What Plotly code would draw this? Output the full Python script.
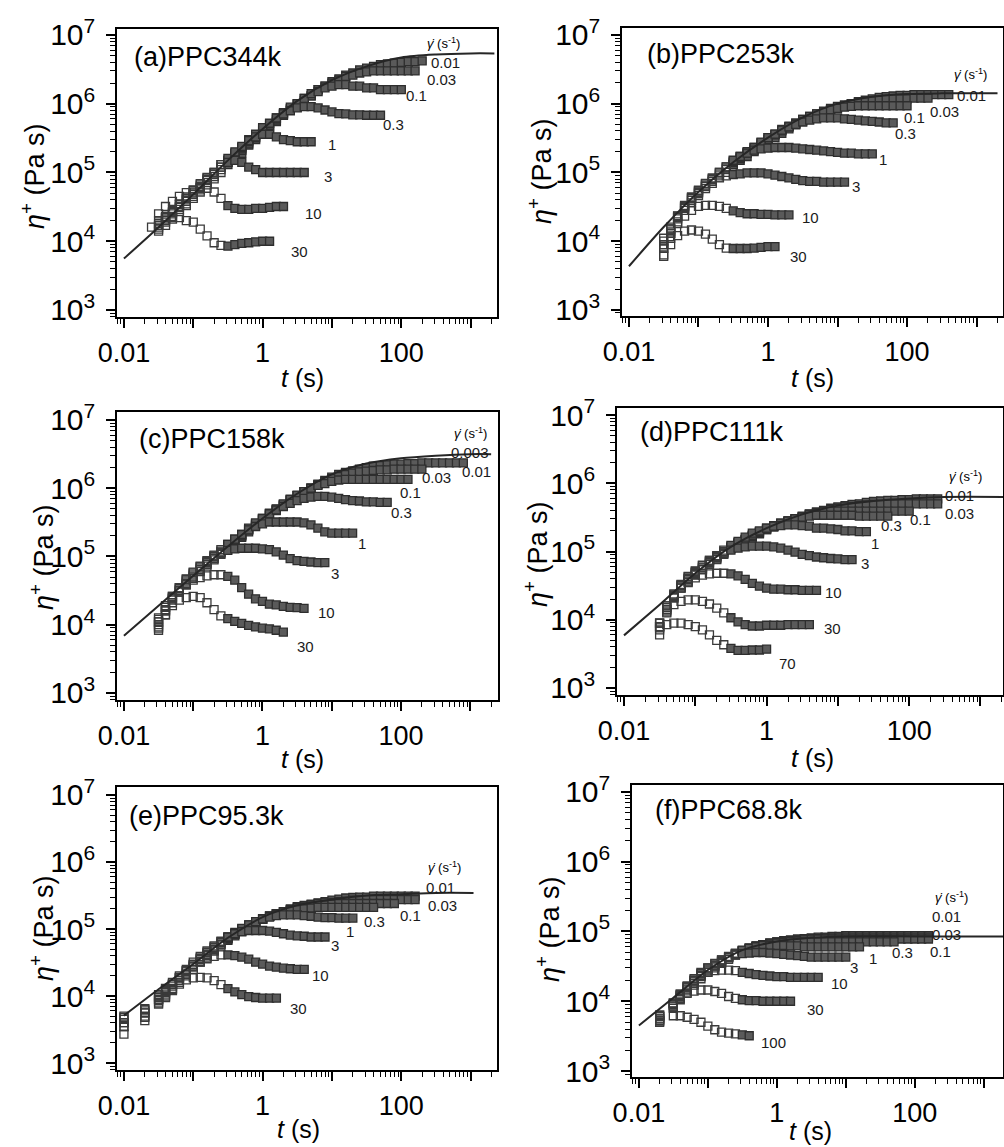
import plotly.graph_objects as go

W, H = 1004, 1147
FONT = "Liberation Sans, Arial, Helvetica, sans-serif"
EDGE = "#2e2e2e"
OPEN_COLOR = "#3a3a3a"
FILL_COLOR = "#5a5a5a"
DENSE_FROM_S = 0.3   # beyond this time the recorded points overlap into a solid band

# ---------------- data ----------------
# common sampling times (s) of the transient shear viscosity
TIME_S = [0.01, 0.0126, 0.0158, 0.02, 0.025, 0.0316, 0.0398, 0.0501, 0.0631, 0.0794,
          0.1, 0.126, 0.158, 0.2, 0.251, 0.316, 0.398, 0.501, 0.631, 0.794,
          1.0, 1.26, 1.58, 2.0, 2.51, 3.16, 3.98, 5.01, 6.31, 7.94,
          10.0, 12.6, 15.8, 20.0, 25.1, 31.6, 39.8, 50.1, 63.1, 79.4,
          100.0, 126.0, 158.0, 200.0, 251.0, 316.0, 398.0, 501.0, 631.0, 794.0]

# (a) PPC344k
RATES_A = ["0.01", "0.03", "0.1", "0.3", "1", "3", "10", "30"]
START_A = [0.0316, 0.0316, 0.0316, 0.0316, 0.0316, 0.0316, 0.0316, 0.025]
ETA_A = [
    [1.4e4, 1.7e4, 2.1e4, 2.7e4, 3.3e4, 4.2e4, 5.2e4, 6.6e4, 8.1e4, 1.0e5, 1.3e5, 1.6e5, 1.9e5, 2.5e5, 3.0e5, 3.7e5, 4.5e5, 5.5e5, 6.8e5, 8.1e5, 9.8e5, 1.1e6, 1.3e6, 1.6e6, 1.8e6, 2.1e6, 2.3e6, 2.6e6, 2.8e6, 3.1e6, 3.3e6, 3.5e6, 3.7e6, 3.8e6, 3.9e6, 4.0e6, 4.1e6, 4.1e6, 4.2e6],
    [1.5e4, 1.9e4, 2.3e4, 2.9e4, 3.5e4, 4.5e4, 5.6e4, 7.1e4, 8.7e4, 1.1e5, 1.4e5, 1.7e5, 2.1e5, 2.6e5, 3.2e5, 4.0e5, 4.8e5, 5.8e5, 7.1e5, 8.5e5, 1.0e6, 1.2e6, 1.3e6, 1.6e6, 1.8e6, 2.0e6, 2.2e6, 2.5e6, 2.6e6, 2.8e6, 2.9e6, 3.0e6, 3.0e6, 3.0e6, 3.0e6, 3.0e6, 3.0e6, 3.0e6],
    [1.6e4, 2.0e4, 2.5e4, 3.1e4, 3.8e4, 4.8e4, 6.0e4, 7.6e4, 9.3e4, 1.2e5, 1.5e5, 1.8e5, 2.2e5, 2.8e5, 3.5e5, 4.3e5, 5.1e5, 6.2e5, 7.4e5, 8.9e5, 1.0e6, 1.2e6, 1.4e6, 1.5e6, 1.7e6, 1.8e6, 1.9e6, 1.9e6, 1.8e6, 1.8e6, 1.7e6, 1.7e6, 1.6e6, 1.6e6, 1.6e6, 1.6e6],
    [1.7e4, 2.1e4, 2.6e4, 3.2e4, 4.0e4, 5.0e4, 6.3e4, 7.9e4, 9.8e4, 1.2e5, 1.5e5, 1.9e5, 2.3e5, 3.0e5, 3.6e5, 4.5e5, 5.2e5, 6.2e5, 7.1e5, 7.9e5, 8.7e5, 9.1e5, 9.1e5, 8.7e5, 8.1e5, 7.6e5, 7.2e5, 7.1e5, 6.9e5, 6.9e5, 6.8e5, 6.8e5, 6.8e5],
    [1.7e4, 2.2e4, 2.7e4, 3.4e4, 4.2e4, 5.2e4, 6.6e4, 8.3e4, 1.0e5, 1.3e5, 1.6e5, 2.0e5, 2.4e5, 2.9e5, 3.3e5, 3.6e5, 3.6e5, 3.3e5, 3.0e5, 2.9e5, 2.8e5, 2.8e5, 2.8e5],
    [1.8e4, 2.3e4, 2.8e4, 3.5e4, 4.4e4, 5.5e4, 6.9e4, 8.5e4, 1.0e5, 1.3e5, 1.4e5, 1.5e5, 1.4e5, 1.2e5, 1.1e5, 1.0e5, 1.0e5, 1.0e5, 1.0e5, 1.0e5, 1.0e5, 1.0e5],
    [2.5e4, 3.2e4, 3.8e4, 4.5e4, 5.1e4, 5.6e4, 5.9e4, 5.9e4, 5.2e4, 4.2e4, 3.3e4, 3.0e4, 2.9e4, 2.9e4, 3.0e4, 3.0e4, 3.1e4, 3.2e4, 3.2e4],
    [1.6e4, 2.0e4, 2.2e4, 2.2e4, 2.2e4, 2.0e4, 1.9e4, 1.5e4, 1.2e4, 9.5e3, 8.7e3, 8.5e3, 8.9e3, 9.3e3, 9.5e3, 9.8e3, 1.0e4, 1.0e4],
]
LVE_T_A = [0.01, 0.0316, 0.1, 0.316, 1, 3.16, 10, 31.6, 100, 316, 1000, 2200]
LVE_ETA_A = [5.6e3, 1.6e4, 4.8e4, 1.5e5, 4.3e5, 1.1e6, 2.2e6, 3.5e6, 4.7e6, 5.2e6, 5.4e6, 5.4e6]
LABEL_TEXT_A = ["0.01", "0.03", "0.1", "0.3", "1", "3", "10", "30"]

# (b) PPC253k
RATES_B = ["0.01", "0.03", "0.1", "0.3", "1", "3", "10", "30"]
START_B = [0.0316, 0.0316, 0.0316, 0.0316, 0.0316, 0.0316, 0.0316, 0.0316]
ETA_B = [
    [6.0e3, 1.1e4, 1.9e4, 2.8e4, 3.6e4, 4.6e4, 5.8e4, 6.9e4, 8.5e4, 1.0e5, 1.3e5, 1.5e5, 1.7e5, 2.0e5, 2.4e5, 2.8e5, 3.2e5, 3.7e5, 4.3e5, 4.9e5, 5.6e5, 6.2e5, 6.8e5, 7.4e5, 8.1e5, 8.9e5, 9.5e5, 1.0e6, 1.07e6, 1.12e6, 1.17e6, 1.23e6, 1.26e6, 1.29e6, 1.32e6, 1.32e6, 1.35e6, 1.35e6, 1.35e6, 1.35e6, 1.35e6, 1.35e6],
    [7.9e3, 1.3e4, 2.1e4, 3.0e4, 3.9e4, 4.9e4, 6.2e4, 7.4e4, 9.1e4, 1.1e5, 1.3e5, 1.6e5, 1.9e5, 2.2e5, 2.6e5, 3.0e5, 3.5e5, 4.0e5, 4.6e5, 5.2e5, 5.9e5, 6.5e5, 7.1e5, 7.8e5, 8.5e5, 9.1e5, 9.5e5, 1.0e6, 1.05e6, 1.07e6, 1.1e6, 1.12e6, 1.15e6, 1.17e6, 1.17e6, 1.17e6, 1.2e6, 1.2e6, 1.2e6],
    [8.9e3, 1.4e4, 2.2e4, 3.1e4, 4.1e4, 5.1e4, 6.5e4, 7.8e4, 9.5e4, 1.15e5, 1.4e5, 1.66e5, 1.95e5, 2.3e5, 2.7e5, 3.2e5, 3.6e5, 4.2e5, 4.7e5, 5.2e5, 5.9e5, 6.5e5, 7.1e5, 7.6e5, 8.1e5, 8.5e5, 8.9e5, 9.1e5, 9.3e5, 9.3e5, 9.3e5, 9.3e5, 9.3e5, 9.3e5, 9.3e5, 9.3e5],
    [1.0e4, 1.5e4, 2.3e4, 3.2e4, 4.3e4, 5.4e4, 6.8e4, 8.1e4, 1.0e5, 1.2e5, 1.45e5, 1.7e5, 2.0e5, 2.3e5, 2.75e5, 3.2e5, 3.6e5, 4.1e5, 4.6e5, 5.0e5, 5.4e5, 5.75e5, 6.0e5, 6.2e5, 6.2e5, 6.2e5, 6.0e5, 5.9e5, 5.75e5, 5.6e5, 5.5e5, 5.4e5, 5.25e5, 5.25e5],
    [1.1e4, 1.6e4, 2.3e4, 3.3e4, 4.4e4, 5.5e4, 6.9e4, 8.3e4, 1.0e5, 1.2e5, 1.5e5, 1.7e5, 1.9e5, 2.1e5, 2.2e5, 2.25e5, 2.3e5, 2.3e5, 2.3e5, 2.25e5, 2.2e5, 2.15e5, 2.1e5, 2.05e5, 2.0e5, 1.95e5, 1.9e5, 1.9e5, 1.86e5, 1.86e5, 1.86e5],
    [8.9e3, 1.5e4, 2.3e4, 3.2e4, 4.2e4, 5.2e4, 6.3e4, 7.4e4, 8.3e4, 8.9e4, 9.3e4, 9.5e4, 9.8e4, 9.8e4, 9.8e4, 9.5e4, 9.1e4, 8.7e4, 8.3e4, 7.9e4, 7.6e4, 7.4e4, 7.4e4, 7.2e4, 7.2e4, 7.2e4, 7.2e4],
    [7.9e3, 1.3e4, 1.8e4, 2.3e4, 2.8e4, 3.2e4, 3.3e4, 3.3e4, 3.2e4, 3.0e4, 2.75e4, 2.6e4, 2.5e4, 2.5e4, 2.45e4, 2.45e4, 2.4e4, 2.4e4, 2.4e4],
    [6.3e3, 8.9e3, 1.2e4, 1.4e4, 1.45e4, 1.4e4, 1.26e4, 1.07e4, 8.9e3, 7.9e3, 7.8e3, 7.8e3, 7.8e3, 7.9e3, 8.1e3, 8.3e3, 8.3e3],
]
LVE_T_B = [0.01, 0.0316, 0.1, 0.316, 1, 3.16, 10, 31.6, 100, 316, 2000]
LVE_ETA_B = [4.3e3, 1.6e4, 5.2e4, 1.4e5, 3.2e5, 6.3e5, 1.0e6, 1.26e6, 1.38e6, 1.41e6, 1.41e6]
LABEL_TEXT_B = ["0.01", "0.03", "0.1", "0.3", "1", "3", "10", "30"]

# (c) PPC158k
RATES_C = ["0.01", "0.03", "0.1", "0.3", "1", "3", "10", "30"]
START_C = [0.0316, 0.0316, 0.0316, 0.0316, 0.0316, 0.0316, 0.0316, 0.0316]
ETA_C = [
    [8.3e3, 1.4e4, 2.1e4, 3.0e4, 3.8e4, 4.8e4, 6.0e4, 7.2e4, 8.9e4, 1.07e5, 1.3e5, 1.6e5, 1.9e5, 2.3e5, 2.8e5, 3.4e5, 4.0e5, 4.7e5, 5.6e5, 6.6e5, 7.8e5, 8.9e5, 1.0e6, 1.15e6, 1.3e6, 1.45e6, 1.6e6, 1.7e6, 1.8e6, 1.9e6, 2.0e6, 2.1e6, 2.15e6, 2.2e6, 2.25e6, 2.25e6, 2.3e6, 2.3e6, 2.35e6, 2.35e6, 2.35e6, 2.35e6, 2.35e6, 2.35e6, 2.35e6],
    [1.0e4, 1.6e4, 2.3e4, 3.1e4, 4.0e4, 5.0e4, 6.3e4, 7.6e4, 9.3e4, 1.1e5, 1.4e5, 1.66e5, 2.0e5, 2.45e5, 2.95e5, 3.5e5, 4.2e5, 4.9e5, 5.75e5, 6.8e5, 7.8e5, 8.9e5, 1.0e6, 1.12e6, 1.26e6, 1.38e6, 1.48e6, 1.58e6, 1.66e6, 1.74e6, 1.78e6, 1.82e6, 1.86e6, 1.86e6, 1.9e6, 1.9e6, 1.9e6, 1.9e6, 1.9e6],
    [1.1e4, 1.66e4, 2.4e4, 3.2e4, 4.2e4, 5.2e4, 6.5e4, 7.8e4, 9.5e4, 1.15e5, 1.4e5, 1.7e5, 2.0e5, 2.5e5, 3.0e5, 3.6e5, 4.3e5, 5.0e5, 5.9e5, 6.9e5, 7.9e5, 8.9e5, 1.0e6, 1.1e6, 1.17e6, 1.26e6, 1.32e6, 1.35e6, 1.35e6, 1.35e6, 1.35e6, 1.35e6, 1.35e6, 1.35e6, 1.35e6, 1.35e6, 1.35e6],
    [1.2e4, 1.8e4, 2.5e4, 3.4e4, 4.4e4, 5.5e4, 6.8e4, 8.1e4, 1.0e5, 1.2e5, 1.5e5, 1.8e5, 2.1e5, 2.6e5, 3.1e5, 3.6e5, 4.2e5, 4.8e5, 5.4e5, 6.0e5, 6.6e5, 7.1e5, 7.4e5, 7.6e5, 7.6e5, 7.4e5, 7.1e5, 6.8e5, 6.6e5, 6.5e5, 6.3e5, 6.3e5, 6.2e5, 6.2e5],
    [1.26e4, 1.9e4, 2.6e4, 3.5e4, 4.6e4, 5.75e4, 7.1e4, 8.5e4, 1.05e5, 1.26e5, 1.5e5, 1.8e5, 2.1e5, 2.45e5, 2.75e5, 3.0e5, 3.2e5, 3.2e5, 3.2e5, 3.2e5, 3.2e5, 3.1e5, 2.9e5, 2.6e5, 2.3e5, 2.2e5, 2.2e5, 2.2e5, 2.2e5],
    [1.1e4, 1.8e4, 2.6e4, 3.5e4, 4.7e4, 5.9e4, 7.2e4, 8.7e4, 1.02e5, 1.15e5, 1.23e5, 1.29e5, 1.32e5, 1.32e5, 1.32e5, 1.29e5, 1.26e5, 1.17e5, 1.05e5, 9.3e4, 8.7e4, 8.5e4, 8.3e4, 8.1e4, 8.1e4],
    [8.9e3, 1.6e4, 2.4e4, 3.2e4, 3.9e4, 4.5e4, 4.9e4, 5.2e4, 5.4e4, 5.4e4, 5.1e4, 4.5e4, 3.5e4, 2.8e4, 2.4e4, 2.2e4, 2.0e4, 1.95e4, 1.86e4, 1.8e4, 1.78e4, 1.74e4],
    [9.3e3, 1.4e4, 1.9e4, 2.3e4, 2.5e4, 2.6e4, 2.5e4, 2.1e4, 1.66e4, 1.35e4, 1.23e4, 1.12e4, 1.05e4, 9.8e3, 9.3e3, 8.9e3, 8.7e3, 8.3e3, 7.8e3],
]
LVE_T_C = [0.01, 0.0316, 0.1, 0.316, 1, 3.16, 10, 31.6, 100, 316, 1000, 2000]
LVE_ETA_C = [6.9e3, 1.9e4, 5.2e4, 1.4e5, 3.6e5, 8.3e5, 1.6e6, 2.3e6, 2.75e6, 3.0e6, 3.16e6, 3.16e6]
LABEL_TEXT_C = ["0.003", "0.01", "0.03", "0.1", "0.3", "1", "3", "10", "30"]

# (d) PPC111k
RATES_D = ["0.01", "0.03", "0.1", "0.3", "1", "3", "10", "30", "70"]
START_D = [0.0316, 0.0316, 0.0316, 0.0316, 0.0316, 0.0316, 0.0316, 0.0316, 0.0316]
ETA_D = [
    [6.0e3, 1.26e4, 2.1e4, 2.9e4, 3.6e4, 4.5e4, 5.4e4, 6.5e4, 7.6e4, 9.1e4, 1.1e5, 1.26e5, 1.41e5, 1.62e5, 1.82e5, 2.1e5, 2.3e5, 2.5e5, 2.75e5, 3.0e5, 3.3e5, 3.55e5, 3.8e5, 4.0e5, 4.3e5, 4.5e5, 4.7e5, 4.9e5, 5.0e5, 5.25e5, 5.4e5, 5.5e5, 5.6e5, 5.6e5, 5.75e5, 5.75e5, 5.9e5, 5.9e5, 5.9e5, 5.9e5],
    [7.1e3, 1.4e4, 2.2e4, 3.0e4, 3.7e4, 4.6e4, 5.5e4, 6.6e4, 7.8e4, 9.3e4, 1.12e5, 1.29e5, 1.45e5, 1.66e5, 1.86e5, 2.1e5, 2.3e5, 2.5e5, 2.75e5, 3.0e5, 3.2e5, 3.5e5, 3.7e5, 3.9e5, 4.1e5, 4.3e5, 4.5e5, 4.6e5, 4.7e5, 4.8e5, 4.9e5, 4.9e5, 5.0e5, 5.0e5, 5.0e5, 5.0e5, 5.0e5, 5.0e5, 5.0e5, 5.0e5],
    [7.9e3, 1.5e4, 2.3e4, 3.1e4, 3.9e4, 4.8e4, 5.75e4, 6.9e4, 8.1e4, 9.8e4, 1.15e5, 1.32e5, 1.48e5, 1.7e5, 1.9e5, 2.15e5, 2.35e5, 2.6e5, 2.8e5, 3.0e5, 3.2e5, 3.5e5, 3.6e5, 3.8e5, 3.9e5, 3.9e5, 3.9e5, 3.9e5, 3.9e5, 3.9e5, 3.9e5, 3.9e5, 3.9e5, 3.9e5, 3.9e5, 3.9e5],
    [8.9e3, 1.6e4, 2.3e4, 3.2e4, 4.0e4, 4.9e4, 5.9e4, 7.1e4, 8.3e4, 1.0e5, 1.17e5, 1.35e5, 1.5e5, 1.74e5, 1.95e5, 2.2e5, 2.4e5, 2.6e5, 2.8e5, 3.0e5, 3.2e5, 3.3e5, 3.4e5, 3.4e5, 3.4e5, 3.4e5, 3.4e5, 3.4e5, 3.3e5, 3.3e5, 3.3e5, 3.3e5, 3.3e5],
    [7.9e3, 1.5e4, 2.3e4, 3.2e4, 4.2e4, 5.1e4, 6.2e4, 7.4e4, 8.7e4, 1.05e5, 1.23e5, 1.41e5, 1.62e5, 1.86e5, 2.0e5, 2.2e5, 2.35e5, 2.4e5, 2.45e5, 2.45e5, 2.4e5, 2.35e5, 2.2e5, 2.2e5, 2.15e5, 2.1e5, 2.0e5, 2.0e5, 1.95e5, 1.95e5],
    [8.9e3, 1.6e4, 2.4e4, 3.3e4, 4.3e4, 5.2e4, 6.3e4, 7.4e4, 8.5e4, 9.5e4, 1.05e5, 1.12e5, 1.17e5, 1.2e5, 1.2e5, 1.2e5, 1.17e5, 1.12e5, 1.05e5, 9.8e4, 9.1e4, 8.7e4, 8.3e4, 8.1e4, 7.9e4, 7.8e4, 7.6e4, 7.6e4],
    [7.9e3, 1.4e4, 2.1e4, 2.9e4, 3.5e4, 4.1e4, 4.5e4, 4.7e4, 4.8e4, 4.8e4, 4.7e4, 4.4e4, 3.9e4, 3.4e4, 3.1e4, 2.9e4, 2.8e4, 2.8e4, 2.75e4, 2.75e4, 2.7e4, 2.7e4, 2.7e4],
    [8.9e3, 1.3e4, 1.66e4, 1.86e4, 1.95e4, 1.95e4, 1.86e4, 1.7e4, 1.48e4, 1.26e4, 1.07e4, 9.3e3, 8.5e3, 8.1e3, 8.1e3, 8.3e3, 8.3e3, 8.3e3, 8.5e3, 8.5e3, 8.5e3, 8.5e3],
    [7.6e3, 8.5e3, 8.9e3, 8.9e3, 8.5e3, 7.9e3, 7.1e3, 6.0e3, 5.0e3, 4.3e3, 3.8e3, 3.55e3, 3.55e3, 3.6e3, 3.6e3, 3.7e3],
]
LVE_T_D = [0.01, 0.0316, 0.1, 0.316, 1, 3.16, 10, 31.6, 100, 316, 2500]
LVE_ETA_D = [5.9e3, 1.66e4, 4.8e4, 1.17e5, 2.2e5, 3.5e5, 4.7e5, 5.5e5, 6.0e5, 6.3e5, 6.3e5]
LABEL_TEXT_D = ["0.01", "0.03", "0.1", "0.3", "1", "3", "10", "30", "70"]

# (e) PPC95.3k
RATES_E = ["0.01", "0.03", "0.1", "0.3", "1", "3", "10", "30"]
START_E = [0.01, 0.01, 0.01, 0.01, 0.01, 0.01, 0.01, 0.01]
ETA_E = [
    [2.7e3, None, None, 4.3e3, None, 7.6e3, 9.5e3, 1.2e4, 1.6e4, 2.0e4, 2.5e4, 3.2e4, 3.8e4, 4.7e4, 5.6e4, 6.8e4, 7.9e4, 9.3e4, 1.07e5, 1.23e5, 1.41e5, 1.55e5, 1.7e5, 1.82e5, 2.0e5, 2.15e5, 2.25e5, 2.35e5, 2.45e5, 2.55e5, 2.7e5, 2.8e5, 2.9e5, 2.95e5, 3.0e5, 3.0e5, 3.1e5, 3.1e5, 3.1e5, 3.1e5, 3.1e5, 3.1e5, 3.1e5],
    [3.5e3, None, None, 5.0e3, None, 8.5e3, 1.07e4, 1.3e4, 1.7e4, 2.1e4, 2.7e4, 3.3e4, 4.0e4, 4.9e4, 5.9e4, 7.1e4, 8.3e4, 9.5e4, 1.1e5, 1.26e5, 1.41e5, 1.55e5, 1.7e5, 1.82e5, 1.95e5, 2.1e5, 2.2e5, 2.3e5, 2.4e5, 2.45e5, 2.5e5, 2.55e5, 2.6e5, 2.7e5, 2.7e5, 2.75e5, 2.75e5, 2.75e5, 2.75e5, 2.75e5, 2.75e5, 2.75e5, 2.75e5],
    [4.0e3, None, None, 5.6e3, None, 8.9e3, 1.12e4, 1.4e4, 1.8e4, 2.2e4, 2.8e4, 3.5e4, 4.2e4, 5.0e4, 6.0e4, 7.2e4, 8.5e4, 9.8e4, 1.12e5, 1.26e5, 1.41e5, 1.55e5, 1.66e5, 1.78e5, 1.9e5, 2.0e5, 2.1e5, 2.2e5, 2.25e5, 2.3e5, 2.35e5, 2.4e5, 2.4e5, 2.4e5, 2.4e5, 2.4e5, 2.4e5, 2.4e5, 2.4e5, 2.4e5],
    [4.5e3, None, None, 6.0e3, None, 9.5e3, 1.2e4, 1.48e4, 1.86e4, 2.35e4, 2.95e4, 3.6e4, 4.4e4, 5.25e4, 6.3e4, 7.4e4, 8.7e4, 1.0e5, 1.15e5, 1.29e5, 1.41e5, 1.55e5, 1.66e5, 1.78e5, 1.86e5, 1.95e5, 2.0e5, 2.05e5, 2.1e5, 2.1e5, 2.1e5, 2.1e5, 2.1e5, 2.1e5, 2.1e5, 2.1e5, 2.1e5],
    [5.0e3, None, None, 6.5e3, None, 1.0e4, 1.26e4, 1.5e4, 1.9e4, 2.4e4, 3.0e4, 3.7e4, 4.5e4, 5.4e4, 6.5e4, 7.6e4, 8.9e4, 1.02e5, 1.15e5, 1.29e5, 1.41e5, 1.5e5, 1.58e5, 1.62e5, 1.62e5, 1.62e5, 1.58e5, 1.55e5, 1.5e5, 1.48e5, 1.48e5, 1.45e5, 1.45e5, 1.45e5],
    [4.8e3, None, None, 6.3e3, None, 1.05e4, 1.3e4, 1.6e4, 2.0e4, 2.5e4, 3.2e4, 3.9e4, 4.7e4, 5.6e4, 6.6e4, 7.6e4, 8.5e4, 9.1e4, 9.5e4, 9.5e4, 9.5e4, 9.3e4, 8.9e4, 8.5e4, 8.1e4, 7.9e4, 7.8e4, 7.6e4, 7.6e4, 7.6e4],
    [4.0e3, None, None, 5.6e3, None, 8.9e3, 1.17e4, 1.5e4, 1.9e4, 2.35e4, 2.8e4, 3.2e4, 3.6e4, 3.9e4, 4.1e4, 4.1e4, 4.0e4, 3.8e4, 3.55e4, 3.2e4, 3.0e4, 2.8e4, 2.7e4, 2.6e4, 2.55e4, 2.5e4, 2.5e4],
    [3.5e3, None, None, 4.8e3, None, 7.9e3, 1.0e4, 1.26e4, 1.5e4, 1.74e4, 1.86e4, 1.9e4, 1.86e4, 1.7e4, 1.48e4, 1.29e4, 1.15e4, 1.05e4, 9.8e3, 9.5e3, 9.3e3, 9.3e3, 9.3e3],
]
LVE_T_E = [0.01, 0.0316, 0.1, 0.316, 1, 3.16, 10, 31.6, 100, 316, 1100]
LVE_ETA_E = [5.1e3, 1.26e4, 3.0e4, 7.4e4, 1.5e5, 2.25e5, 2.75e5, 3.16e5, 3.3e5, 3.45e5, 3.45e5]
LABEL_TEXT_E = ["0.01", "0.03", "0.1", "0.3", "1", "3", "10", "30"]

# (f) PPC68.8k
RATES_F = ["0.01", "0.03", "0.1", "0.3", "1", "3", "10", "30", "100"]
START_F = [0.02, 0.02, 0.02, 0.02, 0.02, 0.02, 0.02, 0.02, 0.02]
ETA_F = [
    [5.25e3, None, 7.9e3, 1.05e4, 1.35e4, 1.7e4, 2.1e4, 2.6e4, 3.0e4, 3.5e4, 4.0e4, 4.6e4, 5.1e4, 5.6e4, 6.0e4, 6.5e4, 6.8e4, 7.1e4, 7.4e4, 7.6e4, 7.8e4, 7.9e4, 8.1e4, 8.3e4, 8.3e4, 8.5e4, 8.5e4, 8.7e4, 8.7e4, 8.7e4, 8.7e4, 8.7e4, 8.7e4, 8.7e4, 8.7e4, 8.7e4, 8.7e4, 8.7e4, 8.7e4, 8.7e4],
    [5.6e3, None, 8.5e3, 1.12e4, 1.45e4, 1.8e4, 2.25e4, 2.7e4, 3.2e4, 3.6e4, 4.2e4, 4.7e4, 5.25e4, 5.75e4, 6.2e4, 6.5e4, 6.8e4, 7.1e4, 7.2e4, 7.4e4, 7.6e4, 7.8e4, 7.9e4, 7.9e4, 8.1e4, 8.1e4, 8.3e4, 8.3e4, 8.3e4, 8.3e4, 8.3e4, 8.3e4, 8.3e4, 8.3e4, 8.3e4, 8.3e4, 8.3e4, 8.3e4, 8.3e4, 8.3e4],
    [6.0e3, None, 8.9e3, 1.17e4, 1.5e4, 1.9e4, 2.35e4, 2.8e4, 3.2e4, 3.7e4, 4.3e4, 4.8e4, 5.25e4, 5.75e4, 6.2e4, 6.5e4, 6.8e4, 6.9e4, 7.1e4, 7.2e4, 7.4e4, 7.6e4, 7.6e4, 7.8e4, 7.8e4, 7.8e4, 7.8e4, 7.8e4, 7.8e4, 7.8e4, 7.8e4, 7.8e4, 7.8e4, 7.8e4, 7.8e4, 7.8e4, 7.8e4, 7.8e4, 7.8e4, 7.8e4],
    [6.3e3, None, 9.3e3, 1.23e4, 1.6e4, 2.0e4, 2.45e4, 2.9e4, 3.3e4, 3.8e4, 4.3e4, 4.8e4, 5.25e4, 5.6e4, 6.0e4, 6.3e4, 6.6e4, 6.8e4, 6.9e4, 7.1e4, 7.1e4, 7.1e4, 7.1e4, 7.1e4, 7.1e4, 7.1e4, 7.1e4, 7.1e4, 7.1e4, 7.1e4, 7.1e4, 7.1e4, 7.1e4, 7.1e4, 7.1e4],
    [6.3e3, None, 9.5e3, 1.26e4, 1.6e4, 2.0e4, 2.5e4, 3.0e4, 3.4e4, 3.9e4, 4.4e4, 4.9e4, 5.4e4, 5.75e4, 6.0e4, 6.3e4, 6.3e4, 6.3e4, 6.3e4, 6.2e4, 6.2e4, 6.0e4, 6.0e4, 6.0e4, 6.0e4, 6.0e4, 6.0e4, 6.0e4, 6.0e4, 6.0e4],
    [6.0e3, None, 9.3e3, 1.26e4, 1.66e4, 2.1e4, 2.6e4, 3.0e4, 3.5e4, 3.9e4, 4.3e4, 4.6e4, 4.8e4, 4.9e4, 5.0e4, 5.0e4, 4.9e4, 4.8e4, 4.7e4, 4.6e4, 4.5e4, 4.4e4, 4.3e4, 4.3e4, 4.3e4, 4.3e4, 4.3e4, 4.3e4],
    [5.6e3, None, 8.9e3, 1.2e4, 1.6e4, 1.95e4, 2.3e4, 2.6e4, 2.75e4, 2.8e4, 2.8e4, 2.75e4, 2.6e4, 2.5e4, 2.4e4, 2.35e4, 2.3e4, 2.25e4, 2.25e4, 2.2e4, 2.2e4, 2.2e4, 2.2e4, 2.2e4],
    [5.25e3, None, 8.3e3, 1.1e4, 1.3e4, 1.4e4, 1.45e4, 1.45e4, 1.38e4, 1.3e4, 1.17e4, 1.1e4, 1.05e4, 1.02e4, 1.02e4, 1.0e4, 1.0e4, 1.0e4, 1.0e4, 1.0e4],
    [5.0e3, None, 6.2e3, 6.2e3, 5.9e3, 5.5e3, 5.0e3, 4.4e3, 3.9e3, 3.6e3, 3.5e3, 3.4e3, 3.3e3, 3.2e3],
]
LVE_T_F = [0.01, 0.0316, 0.1, 0.316, 1, 3.16, 10, 100, 2000]
LVE_ETA_F = [4.5e3, 1.12e4, 2.8e4, 5.4e4, 7.2e4, 8.1e4, 8.5e4, 8.5e4, 8.5e4]
LABEL_TEXT_F = ["0.01", "0.03", "0.1", "0.3", "1", "3", "10", "30", "100"]

# ---------------- layout (pixel geometry of each panel) ----------------
PANEL_LAYOUT = [
    dict(box=(117, 29, 497, 317), xr=(-2.1, 3.38), yr=(2.898, 7.087), title="(a)PPC344k",
         title_xy=(132, 57), ytitle_xy=(33, 176), xtitle_xy=(302, 378), gamma_xy=(443, 43),
         label_xy=[(445, 62), (441, 79), (416, 96), (393, 124), (332, 145), (328, 177), (313, 214), (299, 252)]),
    dict(box=(622, 28, 1003, 316), xr=(-2.1, 3.38), yr=(2.91, 7.10), title="(b)PPC253k",
         title_xy=(645, 54), ytitle_xy=(540, 171), xtitle_xy=(812, 378), gamma_xy=(970, 74),
         label_xy=[(971, 95), (944, 112), (914, 118), (905, 134), (883, 159), (856, 187), (810, 217), (798, 257)]),
    dict(box=(117, 412, 498, 700), xr=(-2.1, 3.40), yr=(2.897, 7.117), title="(c)PPC158k",
         title_xy=(137, 439), ytitle_xy=(42, 557), xtitle_xy=(302, 759), gamma_xy=(470, 433),
         label_xy=[(470, 452), (476, 471), (436, 478), (410, 492), (401, 512), (362, 543), (335, 573), (326, 612), (305, 646)]),
    dict(box=(617, 408, 1003, 695), xr=(-2.098, 3.316), yr=(2.897, 7.103), title="(d)PPC111k",
         title_xy=(638, 432), ytitle_xy=(536, 554), xtitle_xy=(812, 758), gamma_xy=(965, 476),
         label_xy=[(959, 495), (959, 513), (920, 519), (891, 526), (875, 543), (865, 564), (833, 592), (832, 628), (787, 663)]),
    dict(box=(117, 787, 497, 1070), xr=(-2.1, 3.38), yr=(2.896, 7.119), title="(e)PPC95.3k",
         title_xy=(127, 816), ytitle_xy=(42, 928), xtitle_xy=(298, 1129), gamma_xy=(444, 867),
         label_xy=[(440, 887), (442, 905), (410, 915), (374, 921), (350, 931), (335, 945), (320, 975), (298, 1008)]),
    dict(box=(632, 785, 1003, 1077), xr=(-2.1, 3.28), yr=(2.914, 7.10), title="(f)PPC68.8k",
         title_xy=(653, 810), ytitle_xy=(548, 929), xtitle_xy=(810, 1131), gamma_xy=(951, 897),
         label_xy=[(946, 916), (946, 934), (940, 951), (902, 952), (873, 958), (854, 967), (839, 983), (815, 1009), (773, 1042)]),
]

PANEL_DATA = [
    (RATES_A, START_A, ETA_A, LVE_T_A, LVE_ETA_A, LABEL_TEXT_A),
    (RATES_B, START_B, ETA_B, LVE_T_B, LVE_ETA_B, LABEL_TEXT_B),
    (RATES_C, START_C, ETA_C, LVE_T_C, LVE_ETA_C, LABEL_TEXT_C),
    (RATES_D, START_D, ETA_D, LVE_T_D, LVE_ETA_D, LABEL_TEXT_D),
    (RATES_E, START_E, ETA_E, LVE_T_E, LVE_ETA_E, LABEL_TEXT_E),
    (RATES_F, START_F, ETA_F, LVE_T_F, LVE_ETA_F, LABEL_TEXT_F),
]


def px(x, y):
    return x / W, 1 - y / H


fig = go.Figure()
layout = {}
annotations = []

for k, (P, D) in enumerate(zip(PANEL_LAYOUT, PANEL_DATA), start=1):
    rates, starts, etas, lve_t, lve_eta, label_text = D
    suf = "" if k == 1 else str(k)
    xa, ya = "x" + suf, "y" + suf

    for rate, t0, eta in zip(rates, starts, etas):
        i0 = TIME_S.index(t0)
        times = TIME_S[i0:i0 + len(eta)]
        dense = [t >= DENSE_FROM_S for t in times]
        fig.add_trace(go.Scatter(
            x=times, y=eta, mode="markers", name=rate + " s⁻¹",
            marker=dict(symbol=["square" if d else "square-open" for d in dense],
                        size=8,
                        color=[FILL_COLOR if d else OPEN_COLOR for d in dense],
                        line=dict(width=1.3, color=EDGE)),
            xaxis=xa, yaxis=ya, showlegend=False))
    fig.add_trace(go.Scatter(
        x=lve_t, y=lve_eta, mode="lines", name="LVE",
        line=dict(color="#262626", width=2, shape="spline", smoothing=0.8),
        xaxis=xa, yaxis=ya, showlegend=False))

    x0, y0, x1, y1 = P["box"]
    common = dict(type="log", showline=True, linewidth=2, linecolor="black", mirror=True,
                  ticks="outside", tickcolor="black", tickwidth=1.6, ticklen=9,
                  showgrid=False, zeroline=False, automargin=False,
                  tickmode="linear", tick0=0, dtick=1,
                  minor=dict(dtick="D1", ticks="outside", ticklen=5, tickwidth=1.2,
                             tickcolor="black", showgrid=False))
    layout["xaxis" + suf] = dict(
        common, domain=[x0 / W, x1 / W], range=list(P["xr"]), anchor=ya,
        exponentformat="none", ticklabelstandoff=2,
        labelalias={"0.1": " ", "10": " ", "1000": " "},
        tickfont=dict(family=FONT, size=27, color="black"))
    layout["yaxis" + suf] = dict(
        common, domain=[1 - y1 / H, 1 - y0 / H], range=list(P["yr"]), anchor=xa,
        exponentformat="power", showexponent="all", ticklabelstandoff=6,
        tickfont=dict(family=FONT, size=24, color="black"))

    # panel title
    tx, ty = px(*P["title_xy"])
    annotations.append(dict(text=P["title"], x=tx, y=ty, xref="paper", yref="paper",
                            xanchor="left", yanchor="middle", showarrow=False,
                            font=dict(family=FONT, size=27, color="black")))
    # axis titles
    ax_, ay_ = px(*P["ytitle_xy"])
    annotations.append(dict(text="<i>η</i><sup>+</sup> (Pa s)", x=ax_, y=ay_, xref="paper", yref="paper",
                            xanchor="center", yanchor="middle", textangle=-90, showarrow=False,
                            font=dict(family=FONT, size=27, color="black")))
    bx_, by_ = px(*P["xtitle_xy"])
    annotations.append(dict(text="<i>t</i> (s)", x=bx_, y=by_, xref="paper", yref="paper",
                            xanchor="center", yanchor="middle", showarrow=False,
                            font=dict(family=FONT, size=25, color="black")))
    # shear-rate legend header
    gx, gy = px(*P["gamma_xy"])
    annotations.append(dict(text="<i>\u03b3\u0307</i> (s<sup>-1</sup>)", x=gx, y=gy, xref="paper", yref="paper",
                            xanchor="center", yanchor="middle", showarrow=False,
                            font=dict(family=FONT, size=13, color="black")))
    # rate labels
    for text, (lx, ly) in zip(label_text, P["label_xy"]):
        qx, qy = px(lx, ly)
        annotations.append(dict(text=text, x=qx, y=qy, xref="paper", yref="paper",
                                xanchor="center", yanchor="middle", showarrow=False,
                                font=dict(family=FONT, size=15, color="#1a1a1a")))

fig.update_layout(
    width=W, height=H, margin=dict(l=0, r=0, t=0, b=0, pad=0, autoexpand=False),
    paper_bgcolor="white", plot_bgcolor="white", showlegend=False,
    font=dict(family=FONT, color="black"),
    annotations=annotations, **layout)

fig.write_html("out.html")
